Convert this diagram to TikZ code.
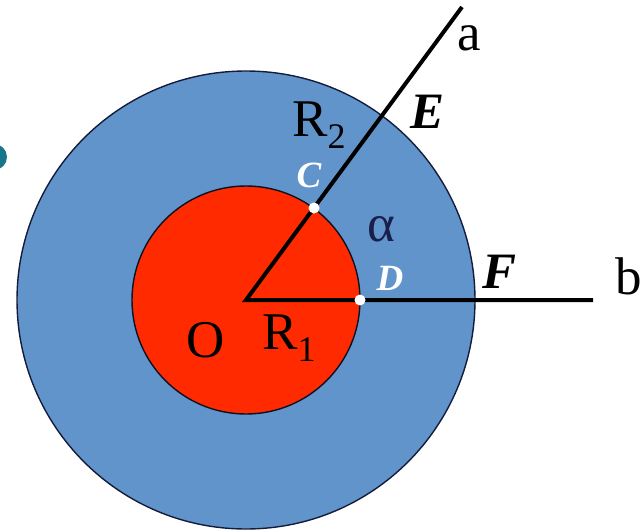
\documentclass[tikz,border=0pt]{standalone}
\usepackage{fontspec}
\setmainfont{Liberation Serif}
\definecolor{ringblue}{RGB}{96,148,202}
\definecolor{corered}{RGB}{255,42,0}
\definecolor{edgenavy}{RGB}{20,28,60}
\definecolor{alphanavy}{RGB}{25,30,75}
\definecolor{tealdot}{RGB}{22,118,138}
\begin{document}
\begin{tikzpicture}[x=1pt,y=-1pt,
  bigtxt/.style={inner sep=0pt,font=\fontsize{53}{53}\selectfont},
  ptlabel/.style={inner sep=0pt,font=\fontsize{51}{51}\selectfont\bfseries\itshape},
  whitelabel/.style={inner sep=0pt,text=white,font=\fontsize{37}{37}\selectfont\bfseries\itshape},
  ray/.style={line width=4pt,black},
  dotmark/.style={circle,fill=white,inner sep=0pt,minimum size=11pt}]
\useasboundingbox (0,0) rectangle (642,532);
% partial teal decoration at left edge
\begin{scope}
  \clip (0,0) rectangle (642,532);
  \fill[tealdot] (-6,157) circle[radius=13];
\end{scope}
% circles
\coordinate (O) at (246,300);
\fill[ringblue,draw=edgenavy,line width=1.4pt] (O) circle[radius=229];
\fill[corered,draw=edgenavy!60!black,line width=1.4pt] (O) circle[radius=114];
% points
\coordinate (C) at (314,208);
\coordinate (E) at (382,116);
\coordinate (Aend) at (462,7);
\coordinate (D) at (360,300);
\coordinate (F) at (475,300);
\coordinate (Bend) at (593,300);
\draw[ray,line join=miter] (Aend) -- (O) -- (Bend);
\node[dotmark] (Cdot) at (C) {};
\node[dotmark] (Ddot) at (D) {};
% labels
\node[bigtxt] (la) at (469,38) {a};
\node[bigtxt] (lb) at (629,276) {b};
\node[ptlabel] (lE) at (428,112) {E};
\node[ptlabel] (lF) at (500,272) {F};
\node[whitelabel] (lC) at (309,175) {C};
\node[whitelabel] (lD) at (390,278) {D};
\node[bigtxt,text=alphanavy] (lalpha) at (381,229) {α};
\node[bigtxt] (lO) at (206,340) {O};
\node[bigtxt] (lR1) at (289,338) {R\raisebox{-0.22em}{\fontsize{36}{36}\selectfont 1}};
\node[bigtxt] (lR2) at (319,125) {R\raisebox{-0.22em}{\fontsize{36}{36}\selectfont 2}};
\end{tikzpicture}
\end{document}
